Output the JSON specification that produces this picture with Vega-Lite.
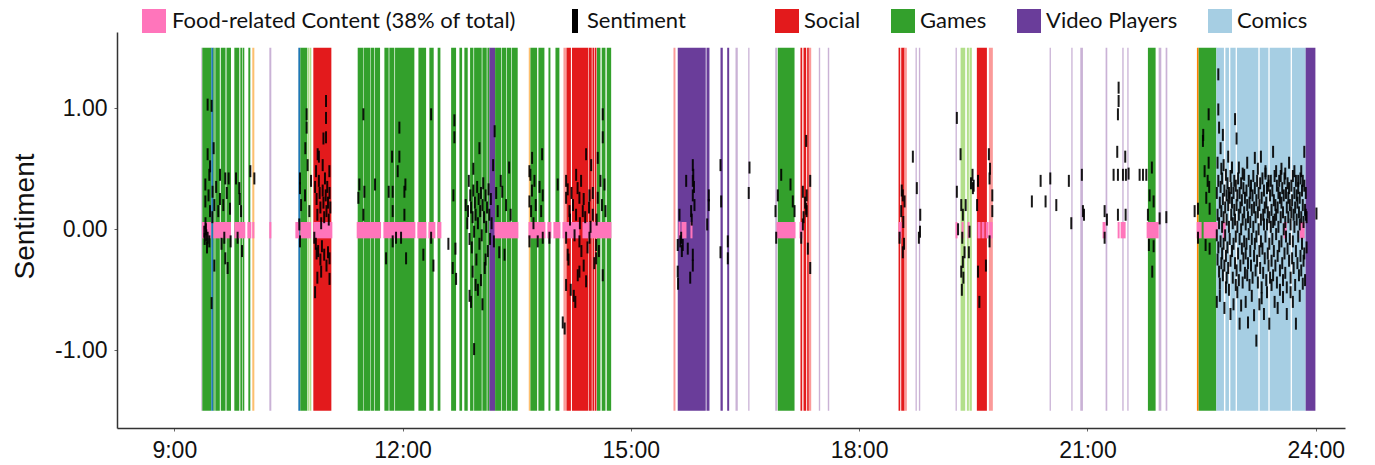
{
  "$schema": "https://vega.github.io/schema/vega-lite/v6.json",
  "width": 1228,
  "height": 396,
  "autosize": {"type": "none"},
  "padding": {"left": 117, "top": 32, "right": 30, "bottom": 37},
  "background": "white",
  "config": {
    "view": {"stroke": null},
    "font": "Liberation Sans",
    "axis": {"grid": false, "domainColor": "#333333", "domainWidth": 1.5, "tickColor": "#666666", "tickSize": 3, "labelColor": "#111111", "labelFont": "Liberation Sans", "labelFontSize": 23},
    "legend": {"labelFont": "Lato", "labelFontSize": 22, "labelColor": "#111111", "labelLimit": 600, "padding": 0, "symbolStrokeWidth": 0, "symbolSize": 576}
  },
  "resolve": {"scale": {"color": "independent"}},
  "datasets": {
    "bands": [
      {"s": 9.355, "e": 9.368, "c": "Entertainment"},
      {"s": 9.368, "e": 9.486, "c": "Games"},
      {"s": 9.486, "e": 9.513, "c": "Communication"},
      {"s": 9.513, "e": 9.530, "c": "Games"},
      {"s": 9.539, "e": 9.598, "c": "Games"},
      {"s": 9.611, "e": 9.673, "c": "Games"},
      {"s": 9.686, "e": 9.745, "c": "Games"},
      {"s": 9.789, "e": 9.854, "c": "Games"},
      {"s": 9.868, "e": 9.894, "c": "Games"},
      {"s": 9.901, "e": 9.920, "c": "Games"},
      {"s": 9.973, "e": 9.999, "c": "Games"},
      {"s": 10.025, "e": 10.052, "c": "Music"},
      {"s": 10.249, "e": 10.275, "c": "Entertainment"},
      {"s": 10.630, "e": 10.656, "c": "Communication"},
      {"s": 10.656, "e": 10.748, "c": "Games"},
      {"s": 10.755, "e": 10.775, "c": "Casual Games"},
      {"s": 10.781, "e": 10.801, "c": "Casual Games"},
      {"s": 10.827, "e": 11.064, "c": "Social"},
      {"s": 11.410, "e": 11.485, "c": "Games"},
      {"s": 11.491, "e": 11.577, "c": "Games"},
      {"s": 11.583, "e": 11.625, "c": "Games"},
      {"s": 11.633, "e": 11.704, "c": "Games"},
      {"s": 11.761, "e": 11.817, "c": "Games"},
      {"s": 11.826, "e": 11.892, "c": "Games"},
      {"s": 11.901, "e": 12.155, "c": "Games"},
      {"s": 12.208, "e": 12.309, "c": "Games"},
      {"s": 12.352, "e": 12.409, "c": "Games"},
      {"s": 12.461, "e": 12.497, "c": "Games"},
      {"s": 12.638, "e": 12.703, "c": "Games"},
      {"s": 12.747, "e": 12.782, "c": "Games"},
      {"s": 12.812, "e": 12.856, "c": "Games"},
      {"s": 12.887, "e": 12.931, "c": "Games"},
      {"s": 12.940, "e": 13.040, "c": "Games"},
      {"s": 13.049, "e": 13.106, "c": "Games"},
      {"s": 13.115, "e": 13.141, "c": "Games"},
      {"s": 13.141, "e": 13.216, "c": "Video Players"},
      {"s": 13.216, "e": 13.295, "c": "Games"},
      {"s": 13.303, "e": 13.361, "c": "Games"},
      {"s": 13.369, "e": 13.426, "c": "Games"},
      {"s": 13.434, "e": 13.513, "c": "Games"},
      {"s": 13.658, "e": 13.680, "c": "Music"},
      {"s": 13.680, "e": 13.768, "c": "Games"},
      {"s": 13.785, "e": 13.864, "c": "Games"},
      {"s": 13.917, "e": 13.943, "c": "Games"},
      {"s": 14.009, "e": 14.061, "c": "Games"},
      {"s": 14.114, "e": 14.147, "c": "Lifestyle"},
      {"s": 14.153, "e": 14.212, "c": "Social"},
      {"s": 14.226, "e": 14.439, "c": "Social"},
      {"s": 14.446, "e": 14.486, "c": "Social"},
      {"s": 14.495, "e": 14.517, "c": "Social"},
      {"s": 14.525, "e": 14.548, "c": "Social"},
      {"s": 14.554, "e": 14.600, "c": "Games"},
      {"s": 14.617, "e": 14.666, "c": "Games"},
      {"s": 14.683, "e": 14.741, "c": "Games"},
      {"s": 15.560, "e": 15.586, "c": "Lifestyle"},
      {"s": 15.616, "e": 15.984, "c": "Video Players"},
      {"s": 15.994, "e": 16.033, "c": "Video Players"},
      {"s": 16.178, "e": 16.208, "c": "Video Players"},
      {"s": 16.266, "e": 16.292, "c": "Video Players"},
      {"s": 16.375, "e": 16.405, "c": "Entertainment"},
      {"s": 16.542, "e": 16.559, "c": "Entertainment"},
      {"s": 16.897, "e": 16.923, "c": "Entertainment"},
      {"s": 16.931, "e": 17.151, "c": "Games"},
      {"s": 17.229, "e": 17.252, "c": "Social"},
      {"s": 17.269, "e": 17.304, "c": "Social"},
      {"s": 17.317, "e": 17.339, "c": "Social"},
      {"s": 17.339, "e": 17.370, "c": "Lifestyle"},
      {"s": 17.470, "e": 17.488, "c": "Entertainment"},
      {"s": 17.588, "e": 17.607, "c": "Entertainment"},
      {"s": 18.518, "e": 18.540, "c": "Social"},
      {"s": 18.553, "e": 18.597, "c": "Social"},
      {"s": 18.597, "e": 18.627, "c": "Lifestyle"},
      {"s": 18.741, "e": 18.758, "c": "Entertainment"},
      {"s": 18.785, "e": 18.803, "c": "Entertainment"},
      {"s": 19.267, "e": 19.284, "c": "Entertainment"},
      {"s": 19.333, "e": 19.394, "c": "Casual Games"},
      {"s": 19.416, "e": 19.442, "c": "Casual Games"},
      {"s": 19.451, "e": 19.481, "c": "Casual Games"},
      {"s": 19.547, "e": 19.679, "c": "Social"},
      {"s": 19.705, "e": 19.757, "c": "Lifestyle"},
      {"s": 20.503, "e": 20.520, "c": "Entertainment"},
      {"s": 20.788, "e": 20.805, "c": "Entertainment"},
      {"s": 20.906, "e": 20.941, "c": "Entertainment"},
      {"s": 21.239, "e": 21.261, "c": "Entertainment"},
      {"s": 21.458, "e": 21.476, "c": "Entertainment"},
      {"s": 21.524, "e": 21.541, "c": "Entertainment"},
      {"s": 21.795, "e": 21.896, "c": "Games"},
      {"s": 21.936, "e": 21.971, "c": "Entertainment"},
      {"s": 22.028, "e": 22.050, "c": "Entertainment"},
      {"s": 22.439, "e": 22.462, "c": "Shopping"},
      {"s": 22.462, "e": 22.694, "c": "Games"},
      {"s": 22.694, "e": 22.794, "c": "Comics"},
      {"s": 22.813, "e": 22.860, "c": "Comics"},
      {"s": 22.878, "e": 22.948, "c": "Comics"},
      {"s": 22.965, "e": 23.246, "c": "Comics"},
      {"s": 23.264, "e": 23.378, "c": "Comics"},
      {"s": 23.395, "e": 23.671, "c": "Comics"},
      {"s": 23.688, "e": 23.868, "c": "Comics"},
      {"s": 23.868, "e": 23.996, "c": "Video Players"}
    ],
    "food": [
      {"s": 9.364, "e": 9.482}, {"s": 9.513, "e": 9.745}, {"s": 9.789, "e": 9.933},
      {"s": 9.960, "e": 10.012}, {"s": 10.025, "e": 10.052}, {"s": 10.249, "e": 10.275},
      {"s": 10.591, "e": 10.643}, {"s": 10.656, "e": 10.797}, {"s": 10.827, "e": 11.077},
      {"s": 11.397, "e": 11.717}, {"s": 11.748, "e": 12.168}, {"s": 12.194, "e": 12.313},
      {"s": 12.339, "e": 12.431}, {"s": 12.457, "e": 12.510}, {"s": 13.207, "e": 13.522},
      {"s": 13.654, "e": 13.877}, {"s": 13.903, "e": 13.956}, {"s": 13.982, "e": 14.074},
      {"s": 14.101, "e": 14.324}, {"s": 14.364, "e": 14.745}, {"s": 15.626, "e": 15.652},
      {"s": 15.665, "e": 15.731}, {"s": 15.783, "e": 15.810}, {"s": 16.914, "e": 17.164},
      {"s": 17.216, "e": 17.256}, {"s": 18.518, "e": 18.557}, {"s": 19.267, "e": 19.293},
      {"s": 19.346, "e": 19.372}, {"s": 19.425, "e": 19.451}, {"s": 19.556, "e": 19.596},
      {"s": 19.609, "e": 19.648}, {"s": 19.662, "e": 19.701}, {"s": 19.714, "e": 19.753},
      {"s": 21.199, "e": 21.239}, {"s": 21.397, "e": 21.423}, {"s": 21.436, "e": 21.502},
      {"s": 21.778, "e": 21.936}, {"s": 22.435, "e": 22.501}, {"s": 22.527, "e": 22.711},
      {"s": 22.777, "e": 22.817}, {"s": 23.579, "e": 23.619}, {"s": 23.789, "e": 23.855}
    ],
    "ticks": [
      {"t": 9.438, "v": 1.03}, {"t": 9.490, "v": 1.02}, {"t": 9.517, "v": 0.67}, {"t": 9.438, "v": 0.62},
      {"t": 9.460, "v": 0.45}, {"t": 9.408, "v": 0.37}, {"t": 9.503, "v": 0.31}, {"t": 9.408, "v": 0.23},
      {"t": 9.526, "v": 0.20}, {"t": 9.469, "v": 0.15}, {"t": 9.394, "v": -0.02}, {"t": 9.438, "v": -0.07},
      {"t": 9.460, "v": -0.10}, {"t": 9.526, "v": -0.30}, {"t": 9.490, "v": -0.61}, {"t": 9.670, "v": 0.42},
      {"t": 9.601, "v": 0.45}, {"t": 9.714, "v": 0.42}, {"t": 9.578, "v": 0.15}, {"t": 9.644, "v": 0.20},
      {"t": 9.732, "v": 0.17}, {"t": 9.657, "v": -0.07}, {"t": 9.670, "v": -0.24}, {"t": 9.701, "v": -0.32},
      {"t": 9.811, "v": 0.42}, {"t": 9.854, "v": 0.34}, {"t": 9.877, "v": 0.15}, {"t": 9.832, "v": -0.07},
      {"t": 9.999, "v": 0.48}, {"t": 10.052, "v": 0.42}, {"t": 9.41, "v": 0.05}, {"t": 9.42, "v": -0.05},
      {"t": 9.45, "v": 0.28}, {"t": 9.47, "v": 0.52}, {"t": 9.43, "v": -0.15}, {"t": 9.50, "v": 0.10},
      {"t": 9.55, "v": 0.35}, {"t": 9.60, "v": 0.25}, {"t": 9.62, "v": -0.12}, {"t": 9.69, "v": 0.30},
      {"t": 9.74, "v": -0.10}, {"t": 9.86, "v": 0.25}, {"t": 9.89, "v": -0.18}, {"t": 9.40, "v": -0.08},
      {"t": 9.415, "v": 0.0},
      {"t": 10.652, "v": 0.42}, {"t": 10.652, "v": 0.34}, {"t": 10.666, "v": 0.20}, {"t": 10.643, "v": 0.04},
      {"t": 10.652, "v": -0.10}, {"t": 10.739, "v": 0.95}, {"t": 10.739, "v": 0.84}, {"t": 10.722, "v": 0.67},
      {"t": 10.752, "v": 0.53}, {"t": 10.718, "v": 0.28}, {"t": 10.775, "v": 0.15}, {"t": 10.797, "v": 0.40},
      {"t": 10.994, "v": 1.06}, {"t": 10.994, "v": 0.92}, {"t": 10.994, "v": 0.76}, {"t": 10.884, "v": 0.62},
      {"t": 10.863, "v": 0.48}, {"t": 10.950, "v": 0.53}, {"t": 11.038, "v": 0.48}, {"t": 10.840, "v": -0.07},
      {"t": 10.85, "v": 0.35}, {"t": 10.87, "v": 0.25}, {"t": 10.88, "v": 0.12}, {"t": 10.90, "v": 0.40},
      {"t": 10.91, "v": 0.30}, {"t": 10.92, "v": 0.18}, {"t": 10.93, "v": 0.05}, {"t": 10.95, "v": 0.32},
      {"t": 10.96, "v": 0.22}, {"t": 10.97, "v": 0.10}, {"t": 10.98, "v": 0.42}, {"t": 10.99, "v": 0.28},
      {"t": 11.00, "v": 0.15}, {"t": 11.01, "v": 0.35}, {"t": 11.02, "v": 0.22}, {"t": 11.03, "v": 0.08},
      {"t": 11.04, "v": 0.30}, {"t": 11.05, "v": 0.18}, {"t": 10.86, "v": -0.12}, {"t": 10.89, "v": -0.18},
      {"t": 10.92, "v": -0.25}, {"t": 10.94, "v": -0.14}, {"t": 10.97, "v": -0.21}, {"t": 11.00, "v": -0.30},
      {"t": 11.02, "v": -0.19}, {"t": 11.04, "v": -0.24}, {"t": 10.93, "v": -0.35}, {"t": 10.88, "v": -0.40},
      {"t": 11.04, "v": -0.41}, {"t": 10.85, "v": -0.52}, {"t": 10.87, "v": -0.20}, {"t": 10.90, "v": 0.60},
      {"t": 10.96, "v": 0.75},
      {"t": 11.485, "v": 0.95}, {"t": 11.432, "v": 0.37}, {"t": 11.498, "v": 0.31}, {"t": 11.419, "v": 0.26},
      {"t": 11.638, "v": 0.37}, {"t": 11.485, "v": 0.12}, {"t": 11.862, "v": 0.60}, {"t": 11.958, "v": 0.84},
      {"t": 11.958, "v": 0.60}, {"t": 11.936, "v": 0.48}, {"t": 12.037, "v": 0.37}, {"t": 12.024, "v": 0.31},
      {"t": 11.817, "v": 0.31}, {"t": 11.870, "v": 0.31}, {"t": 11.870, "v": 0.15}, {"t": 12.024, "v": 0.12},
      {"t": 11.980, "v": -0.07}, {"t": 11.914, "v": -0.07}, {"t": 11.783, "v": -0.24}, {"t": 12.046, "v": -0.24},
      {"t": 11.870, "v": -0.10}, {"t": 12.375, "v": 0.95}, {"t": 12.273, "v": -0.21}, {"t": 12.405, "v": -0.30},
      {"t": 12.375, "v": -0.07}, {"t": 12.602, "v": -0.12}, {"t": 12.681, "v": 0.90}, {"t": 12.681, "v": 0.76},
      {"t": 12.668, "v": 0.28}, {"t": 12.694, "v": -0.16}, {"t": 12.659, "v": -0.32}, {"t": 12.703, "v": -0.41},
      {"t": 12.83, "v": 0.20}, {"t": 12.85, "v": 0.05}, {"t": 12.86, "v": 0.15}, {"t": 12.88, "v": -0.08},
      {"t": 12.89, "v": 0.28}, {"t": 12.90, "v": 0.18}, {"t": 12.91, "v": -0.15}, {"t": 12.92, "v": 0.10},
      {"t": 12.93, "v": 0.32}, {"t": 12.94, "v": -0.02}, {"t": 12.95, "v": 0.22}, {"t": 12.96, "v": 0.12},
      {"t": 12.97, "v": -0.25}, {"t": 12.98, "v": 0.35}, {"t": 12.99, "v": 0.05}, {"t": 13.00, "v": 0.25},
      {"t": 13.01, "v": 0.67}, {"t": 13.01, "v": -0.12}, {"t": 13.02, "v": 0.15}, {"t": 13.03, "v": 0.30},
      {"t": 13.04, "v": -0.05}, {"t": 13.05, "v": 0.20}, {"t": 13.06, "v": 0.38}, {"t": 13.07, "v": 0.10},
      {"t": 13.08, "v": -0.32}, {"t": 13.09, "v": 0.28}, {"t": 13.10, "v": 0.02}, {"t": 13.11, "v": 0.18},
      {"t": 13.12, "v": -0.18}, {"t": 13.13, "v": 0.33}, {"t": 13.14, "v": 0.12}, {"t": 13.15, "v": -0.08},
      {"t": 13.16, "v": 0.25}, {"t": 13.17, "v": 0.05}, {"t": 13.19, "v": 0.53}, {"t": 13.20, "v": -0.10},
      {"t": 13.21, "v": 0.81}, {"t": 13.23, "v": 0.30}, {"t": 13.25, "v": 0.15}, {"t": 13.27, "v": -0.19},
      {"t": 13.29, "v": 0.40}, {"t": 13.31, "v": 0.31}, {"t": 13.34, "v": -0.21}, {"t": 13.36, "v": 0.20},
      {"t": 13.40, "v": 0.51}, {"t": 13.42, "v": 0.12}, {"t": 12.94, "v": -0.99}, {"t": 12.96, "v": -0.46},
      {"t": 12.92, "v": -0.35}, {"t": 12.88, "v": -0.55}, {"t": 12.90, "v": -0.60}, {"t": 13.03, "v": -0.42},
      {"t": 12.99, "v": -0.50}, {"t": 13.05, "v": -0.62}, {"t": 12.87, "v": 0.40}, {"t": 12.93, "v": 0.50},
      {"t": 13.09, "v": -0.25},
      {"t": 13.834, "v": 0.62}, {"t": 13.702, "v": 0.59}, {"t": 13.667, "v": 0.48}, {"t": 13.733, "v": 0.40},
      {"t": 13.667, "v": 0.23}, {"t": 13.689, "v": 0.15}, {"t": 13.842, "v": 0.28}, {"t": 13.821, "v": 0.15},
      {"t": 13.667, "v": -0.10}, {"t": 13.776, "v": -0.10}, {"t": 13.842, "v": -0.07}, {"t": 13.930, "v": -0.07},
      {"t": 14.039, "v": 0.37}, {"t": 13.70, "v": 0.32}, {"t": 13.72, "v": 0.05}, {"t": 13.75, "v": 0.20},
      {"t": 13.68, "v": 0.45}, {"t": 13.80, "v": 0.35},
      {"t": 14.412, "v": 0.62}, {"t": 14.565, "v": 0.59}, {"t": 14.631, "v": 0.95}, {"t": 14.631, "v": 0.76},
      {"t": 14.149, "v": 0.40}, {"t": 14.281, "v": 0.45}, {"t": 14.346, "v": 0.40}, {"t": 14.478, "v": 0.53},
      {"t": 14.324, "v": 0.26}, {"t": 14.456, "v": 0.28}, {"t": 14.565, "v": 0.26}, {"t": 14.653, "v": 0.37},
      {"t": 14.149, "v": 0.26}, {"t": 14.193, "v": 0.15}, {"t": 14.368, "v": 0.15}, {"t": 14.499, "v": 0.12},
      {"t": 14.666, "v": 0.15}, {"t": 14.149, "v": -0.07}, {"t": 14.324, "v": -0.10}, {"t": 14.456, "v": -0.07},
      {"t": 14.544, "v": -0.13}, {"t": 14.170, "v": -0.21}, {"t": 14.324, "v": -0.35}, {"t": 14.544, "v": -0.24},
      {"t": 14.412, "v": -0.43}, {"t": 14.149, "v": -0.46}, {"t": 14.302, "v": -0.38}, {"t": 14.631, "v": -0.38},
      {"t": 14.105, "v": -0.77}, {"t": 14.13, "v": -0.82}, {"t": 14.17, "v": 0.33}, {"t": 14.20, "v": 0.08},
      {"t": 14.22, "v": 0.30}, {"t": 14.24, "v": 0.20}, {"t": 14.26, "v": -0.05}, {"t": 14.28, "v": 0.12},
      {"t": 14.30, "v": 0.34}, {"t": 14.33, "v": 0.05}, {"t": 14.35, "v": -0.18}, {"t": 14.38, "v": 0.25},
      {"t": 14.40, "v": 0.10}, {"t": 14.43, "v": -0.15}, {"t": 14.45, "v": 0.18}, {"t": 14.47, "v": 0.02},
      {"t": 14.50, "v": 0.30}, {"t": 14.52, "v": -0.28}, {"t": 14.55, "v": 0.08}, {"t": 14.58, "v": -0.18},
      {"t": 14.60, "v": 0.40}, {"t": 14.62, "v": 0.20}, {"t": 14.25, "v": -0.55}, {"t": 14.27, "v": -0.60},
      {"t": 14.38, "v": -0.30}, {"t": 14.18, "v": -0.25}, {"t": 14.21, "v": -0.50},
      {"t": 15.814, "v": 0.53}, {"t": 15.814, "v": 0.40}, {"t": 15.727, "v": 0.40}, {"t": 15.814, "v": 0.28},
      {"t": 15.836, "v": 0.20}, {"t": 15.792, "v": 0.15}, {"t": 15.639, "v": 0.12}, {"t": 15.616, "v": -0.13},
      {"t": 15.682, "v": -0.13}, {"t": 15.661, "v": -0.07}, {"t": 15.748, "v": -0.16}, {"t": 15.814, "v": -0.21},
      {"t": 15.616, "v": -0.35}, {"t": 15.814, "v": -0.30}, {"t": 16.024, "v": 0.28}, {"t": 16.024, "v": 0.20},
      {"t": 16.003, "v": 0.04}, {"t": 15.82, "v": 0.45}, {"t": 15.83, "v": 0.35}, {"t": 15.80, "v": 0.08},
      {"t": 15.65, "v": -0.10}, {"t": 15.67, "v": -0.18}, {"t": 15.78, "v": -0.40}, {"t": 15.62, "v": -0.45},
      {"t": 16.178, "v": 0.53}, {"t": 16.187, "v": 0.23}, {"t": 16.178, "v": -0.19}, {"t": 16.274, "v": -0.10},
      {"t": 16.274, "v": -0.24}, {"t": 16.559, "v": 0.51}, {"t": 16.549, "v": 0.30},
      {"t": 16.976, "v": 0.45}, {"t": 16.931, "v": 0.28}, {"t": 16.901, "v": 0.15}, {"t": 16.910, "v": -0.07},
      {"t": 17.098, "v": 0.37}, {"t": 17.128, "v": 0.23}, {"t": 17.151, "v": 0.15},
      {"t": 17.304, "v": 0.73}, {"t": 17.260, "v": 0.31}, {"t": 17.304, "v": 0.17}, {"t": 17.310, "v": 0.15},
      {"t": 17.357, "v": 0.40}, {"t": 17.239, "v": -0.07}, {"t": 17.326, "v": -0.16}, {"t": 17.357, "v": -0.32},
      {"t": 17.260, "v": 0.04}, {"t": 17.29, "v": 0.22}, {"t": 17.31, "v": 0.28}, {"t": 17.27, "v": 0.10},
      {"t": 18.706, "v": 0.60}, {"t": 18.574, "v": 0.28}, {"t": 18.597, "v": 0.23}, {"t": 18.553, "v": 0.15},
      {"t": 18.758, "v": 0.34}, {"t": 18.803, "v": 0.12}, {"t": 18.785, "v": -0.07}, {"t": 18.574, "v": -0.19},
      {"t": 18.531, "v": -0.07}, {"t": 18.56, "v": 0.32}, {"t": 18.58, "v": 0.06}, {"t": 18.59, "v": -0.12},
      {"t": 18.80, "v": -0.02},
      {"t": 19.284, "v": 0.92}, {"t": 19.284, "v": 0.31}, {"t": 19.333, "v": 0.62}, {"t": 19.342, "v": 0.20},
      {"t": 19.342, "v": -0.35}, {"t": 19.363, "v": 0.12}, {"t": 19.363, "v": -0.27}, {"t": 19.355, "v": -0.07},
      {"t": 19.451, "v": -0.02}, {"t": 19.385, "v": -0.19}, {"t": 19.442, "v": -0.19}, {"t": 19.495, "v": 0.34},
      {"t": 19.505, "v": 0.36}, {"t": 19.562, "v": 0.40}, {"t": 19.562, "v": -0.35}, {"t": 19.666, "v": -0.30},
      {"t": 19.705, "v": 0.62}, {"t": 19.714, "v": 0.42}, {"t": 19.714, "v": -0.10}, {"t": 19.750, "v": 0.28},
      {"t": 19.750, "v": 0.15}, {"t": 19.30, "v": 0.0}, {"t": 19.37, "v": -0.40}, {"t": 19.35, "v": -0.50},
      {"t": 19.40, "v": 0.20}, {"t": 19.55, "v": 0.20}, {"t": 19.58, "v": -0.60}, {"t": 19.47, "v": 0.38},
      {"t": 19.72, "v": 0.50}, {"t": 19.49, "v": 0.45},
      {"t": 20.385, "v": 0.40}, {"t": 20.270, "v": 0.23}, {"t": 20.450, "v": 0.23}, {"t": 20.512, "v": 0.42},
      {"t": 20.591, "v": 0.20}, {"t": 20.756, "v": 0.40}, {"t": 20.788, "v": 0.05}, {"t": 20.927, "v": 0.45},
      {"t": 20.941, "v": 0.15}, {"t": 20.955, "v": 0.12},
      {"t": 21.226, "v": 0.15}, {"t": 21.226, "v": -0.07}, {"t": 21.256, "v": 0.08},
      {"t": 21.410, "v": 1.17}, {"t": 21.410, "v": 1.06}, {"t": 21.401, "v": 0.95}, {"t": 21.401, "v": 0.45},
      {"t": 21.401, "v": 0.12}, {"t": 21.392, "v": 0.64}, {"t": 21.497, "v": 0.60}, {"t": 21.344, "v": 0.45},
      {"t": 21.467, "v": 0.45}, {"t": 21.506, "v": 0.45}, {"t": 21.541, "v": 0.46}, {"t": 21.502, "v": 0.12},
      {"t": 21.686, "v": 0.45}, {"t": 21.730, "v": 0.45}, {"t": 21.774, "v": 0.45},
      {"t": 21.847, "v": 0.51}, {"t": 21.817, "v": 0.28}, {"t": 21.870, "v": 0.23}, {"t": 21.870, "v": -0.14},
      {"t": 21.795, "v": 0.12}, {"t": 21.808, "v": -0.13}, {"t": 21.852, "v": -0.35}, {"t": 21.949, "v": 0.09},
      {"t": 22.037, "v": 0.10},
      {"t": 22.409, "v": 0.15}, {"t": 22.453, "v": 0.17}, {"t": 22.453, "v": -0.07}, {"t": 22.593, "v": 0.95},
      {"t": 22.593, "v": 0.55}, {"t": 22.518, "v": 0.73}, {"t": 22.522, "v": 0.78}, {"t": 22.540, "v": 0.48},
      {"t": 22.562, "v": 0.26}, {"t": 22.606, "v": 0.17}, {"t": 22.606, "v": -0.16}, {"t": 22.553, "v": -0.13},
      {"t": 22.60, "v": 0.35}, {"t": 22.58, "v": 0.40},
      {"t": 22.70, "v": 0.30}, {"t": 22.70, "v": -0.05}, {"t": 22.70, "v": -0.60},
      {"t": 22.71, "v": 0.12}, {"t": 22.71, "v": -0.25}, {"t": 22.71, "v": 0.55},
      {"t": 22.72, "v": 0.40}, {"t": 22.72, "v": -0.15}, {"t": 22.72, "v": 1.28}, {"t": 22.72, "v": 0.99},
      {"t": 22.73, "v": 0.05}, {"t": 22.73, "v": -0.35}, {"t": 22.73, "v": 0.84},
      {"t": 22.74, "v": 0.22}, {"t": 22.74, "v": -0.45}, {"t": 22.74, "v": -0.55},
      {"t": 22.75, "v": 0.35}, {"t": 22.75, "v": -0.10}, {"t": 22.75, "v": 0.67},
      {"t": 22.76, "v": 0.15}, {"t": 22.76, "v": -0.28}, {"t": 22.76, "v": 0.50},
      {"t": 22.77, "v": 0.42}, {"t": 22.77, "v": 0.02}, {"t": 22.77, "v": -0.20},
      {"t": 22.78, "v": 0.25}, {"t": 22.78, "v": -0.38}, {"t": 22.78, "v": 0.78},
      {"t": 22.79, "v": 0.10}, {"t": 22.79, "v": -0.12}, {"t": 22.79, "v": 0.53},
      {"t": 22.80, "v": 0.32}, {"t": 22.80, "v": -0.30}, {"t": 22.80, "v": -0.65},
      {"t": 22.81, "v": 0.18}, {"t": 22.81, "v": -0.05},
      {"t": 22.82, "v": 0.45}, {"t": 22.82, "v": -0.22}, {"t": 22.82, "v": -0.48},
      {"t": 22.83, "v": 0.08}, {"t": 22.83, "v": 0.28}, {"t": 22.83, "v": -0.40},
      {"t": 22.84, "v": 0.38}, {"t": 22.84, "v": -0.15},
      {"t": 22.85, "v": 0.20}, {"t": 22.85, "v": -0.32}, {"t": 22.85, "v": 0.60},
      {"t": 22.86, "v": 0.02}, {"t": 22.86, "v": -0.50}, {"t": 22.86, "v": 0.30},
      {"t": 22.87, "v": 0.26}, {"t": 22.87, "v": -0.08},
      {"t": 22.88, "v": 0.44}, {"t": 22.88, "v": -0.26}, {"t": 22.88, "v": -0.70},
      {"t": 22.89, "v": 0.12}, {"t": 22.89, "v": 0.34},
      {"t": 22.90, "v": -0.18}, {"t": 22.90, "v": 0.22}, {"t": 22.90, "v": 0.51},
      {"t": 22.91, "v": 0.05}, {"t": 22.91, "v": -0.40},
      {"t": 22.92, "v": 0.30}, {"t": 22.92, "v": -0.12}, {"t": 22.92, "v": -0.62},
      {"t": 22.93, "v": 0.16}, {"t": 22.93, "v": 0.40},
      {"t": 22.94, "v": -0.28}, {"t": 22.94, "v": 0.08}, {"t": 22.94, "v": 0.91},
      {"t": 22.95, "v": 0.36}, {"t": 22.95, "v": -0.06}, {"t": 22.95, "v": -0.46},
      {"t": 22.96, "v": 0.20}, {"t": 22.96, "v": -0.34}, {"t": 22.96, "v": 0.75},
      {"t": 22.97, "v": 0.02}, {"t": 22.97, "v": 0.28}, {"t": 22.97, "v": -0.52},
      {"t": 22.98, "v": 0.42}, {"t": 22.98, "v": -0.20},
      {"t": 22.99, "v": 0.12}, {"t": 22.99, "v": -0.42}, {"t": 22.99, "v": 0.51},
      {"t": 23.00, "v": 0.30}, {"t": 23.00, "v": -0.08}, {"t": 23.00, "v": -0.78},
      {"t": 23.01, "v": 0.18}, {"t": 23.01, "v": -0.30},
      {"t": 23.02, "v": 0.38}, {"t": 23.02, "v": 0.00}, {"t": 23.02, "v": -0.63},
      {"t": 23.03, "v": 0.24}, {"t": 23.03, "v": -0.16},
      {"t": 23.04, "v": 0.08}, {"t": 23.04, "v": -0.44}, {"t": 23.04, "v": 0.46},
      {"t": 23.05, "v": 0.34}, {"t": 23.05, "v": -0.24},
      {"t": 23.06, "v": 0.14}, {"t": 23.06, "v": 0.45}, {"t": 23.06, "v": -0.10},
      {"t": 23.07, "v": -0.36}, {"t": 23.07, "v": 0.26},
      {"t": 23.08, "v": 0.04}, {"t": 23.08, "v": -0.20}, {"t": 23.08, "v": -0.60},
      {"t": 23.09, "v": 0.32}, {"t": 23.09, "v": -0.12},
      {"t": 23.10, "v": 0.20}, {"t": 23.10, "v": -0.38}, {"t": 23.10, "v": 0.55},
      {"t": 23.11, "v": 0.10}, {"t": 23.11, "v": -0.28}, {"t": 23.11, "v": -0.77},
      {"t": 23.12, "v": 0.40}, {"t": 23.12, "v": -0.04},
      {"t": 23.13, "v": 0.22}, {"t": 23.13, "v": -0.46},
      {"t": 23.14, "v": 0.06}, {"t": 23.14, "v": 0.30}, {"t": 23.14, "v": -0.18},
      {"t": 23.15, "v": 0.36}, {"t": 23.15, "v": -0.30},
      {"t": 23.16, "v": 0.16}, {"t": 23.16, "v": -0.08}, {"t": 23.16, "v": -0.55},
      {"t": 23.17, "v": 0.28}, {"t": 23.17, "v": -0.40},
      {"t": 23.18, "v": 0.02}, {"t": 23.18, "v": 0.44},
      {"t": 23.19, "v": -0.22}, {"t": 23.19, "v": 0.18}, {"t": 23.19, "v": -0.71},
      {"t": 23.20, "v": 0.34}, {"t": 23.20, "v": -0.12}, {"t": 23.20, "v": 0.59},
      {"t": 23.21, "v": 0.10}, {"t": 23.21, "v": -0.34},
      {"t": 23.22, "v": 0.24}, {"t": 23.22, "v": -0.06}, {"t": 23.22, "v": -0.92},
      {"t": 23.23, "v": 0.40}, {"t": 23.23, "v": -0.26},
      {"t": 23.24, "v": 0.14}, {"t": 23.24, "v": -0.44}, {"t": 23.24, "v": 0.50},
      {"t": 23.25, "v": 0.30}, {"t": 23.25, "v": 0.00},
      {"t": 23.26, "v": -0.18}, {"t": 23.26, "v": 0.20}, {"t": 23.26, "v": -0.62},
      {"t": 23.27, "v": 0.38}, {"t": 23.27, "v": -0.32},
      {"t": 23.28, "v": 0.08}, {"t": 23.28, "v": -0.10}, {"t": 23.28, "v": 0.60},
      {"t": 23.29, "v": 0.26}, {"t": 23.29, "v": -0.48}, {"t": 23.29, "v": -0.57},
      {"t": 23.30, "v": 0.42}, {"t": 23.30, "v": -0.16},
      {"t": 23.31, "v": 0.12}, {"t": 23.31, "v": -0.36},
      {"t": 23.32, "v": 0.32}, {"t": 23.32, "v": 0.04}, {"t": 23.32, "v": -0.70},
      {"t": 23.33, "v": 0.18}, {"t": 23.33, "v": -0.24},
      {"t": 23.34, "v": 0.46}, {"t": 23.34, "v": -0.06}, {"t": 23.34, "v": 0.48},
      {"t": 23.35, "v": 0.22}, {"t": 23.35, "v": -0.42},
      {"t": 23.36, "v": 0.04}, {"t": 23.36, "v": 0.34}, {"t": 23.36, "v": -0.52},
      {"t": 23.37, "v": -0.20}, {"t": 23.37, "v": 0.14},
      {"t": 23.38, "v": 0.36}, {"t": 23.38, "v": -0.30}, {"t": 23.38, "v": 0.40},
      {"t": 23.39, "v": 0.10}, {"t": 23.39, "v": -0.12}, {"t": 23.39, "v": -0.78},
      {"t": 23.40, "v": 0.28}, {"t": 23.40, "v": -0.40},
      {"t": 23.41, "v": 0.40}, {"t": 23.41, "v": 0.02},
      {"t": 23.42, "v": 0.16}, {"t": 23.42, "v": -0.26}, {"t": 23.42, "v": -0.46},
      {"t": 23.43, "v": 0.32}, {"t": 23.43, "v": -0.08},
      {"t": 23.44, "v": 0.06}, {"t": 23.44, "v": -0.38}, {"t": 23.44, "v": 0.64},
      {"t": 23.45, "v": 0.24}, {"t": 23.45, "v": -0.18},
      {"t": 23.46, "v": 0.44}, {"t": 23.46, "v": 0.08}, {"t": 23.46, "v": -0.60},
      {"t": 23.47, "v": -0.30}, {"t": 23.47, "v": 0.20},
      {"t": 23.48, "v": 0.12}, {"t": 23.48, "v": -0.04}, {"t": 23.48, "v": 0.48},
      {"t": 23.49, "v": 0.36}, {"t": 23.49, "v": -0.44},
      {"t": 23.50, "v": 0.18}, {"t": 23.50, "v": -0.22}, {"t": 23.50, "v": -0.65},
      {"t": 23.51, "v": 0.02}, {"t": 23.51, "v": 0.30},
      {"t": 23.52, "v": 0.40}, {"t": 23.52, "v": -0.14},
      {"t": 23.53, "v": 0.26}, {"t": 23.53, "v": -0.34}, {"t": 23.53, "v": -0.50},
      {"t": 23.54, "v": 0.10}, {"t": 23.54, "v": 0.44},
      {"t": 23.55, "v": -0.10}, {"t": 23.55, "v": 0.22}, {"t": 23.55, "v": 0.50},
      {"t": 23.56, "v": 0.34}, {"t": 23.56, "v": -0.28},
      {"t": 23.57, "v": 0.14}, {"t": 23.57, "v": -0.42}, {"t": 23.57, "v": -0.56},
      {"t": 23.58, "v": 0.28}, {"t": 23.58, "v": 0.00},
      {"t": 23.59, "v": 0.42}, {"t": 23.59, "v": -0.20},
      {"t": 23.60, "v": 0.06}, {"t": 23.60, "v": -0.36}, {"t": 23.60, "v": 0.46},
      {"t": 23.61, "v": 0.30}, {"t": 23.61, "v": -0.06},
      {"t": 23.62, "v": 0.18}, {"t": 23.62, "v": -0.48}, {"t": 23.62, "v": -0.70},
      {"t": 23.63, "v": 0.38}, {"t": 23.63, "v": -0.16},
      {"t": 23.64, "v": 0.10}, {"t": 23.64, "v": 0.26},
      {"t": 23.65, "v": -0.26}, {"t": 23.65, "v": 0.34}, {"t": 23.65, "v": 0.55},
      {"t": 23.66, "v": 0.20}, {"t": 23.66, "v": -0.08},
      {"t": 23.67, "v": 0.04}, {"t": 23.67, "v": -0.40}, {"t": 23.67, "v": -0.52},
      {"t": 23.68, "v": 0.36}, {"t": 23.68, "v": 0.14},
      {"t": 23.69, "v": 0.24}, {"t": 23.69, "v": -0.24},
      {"t": 23.70, "v": 0.44}, {"t": 23.70, "v": -0.10}, {"t": 23.70, "v": -0.60},
      {"t": 23.71, "v": 0.12}, {"t": 23.71, "v": -0.32},
      {"t": 23.72, "v": 0.30}, {"t": 23.72, "v": 0.02}, {"t": 23.72, "v": 0.48},
      {"t": 23.73, "v": 0.18}, {"t": 23.73, "v": -0.46},
      {"t": 23.74, "v": 0.40}, {"t": 23.74, "v": -0.18}, {"t": 23.74, "v": -0.78},
      {"t": 23.75, "v": 0.08}, {"t": 23.75, "v": 0.28},
      {"t": 23.76, "v": -0.28}, {"t": 23.76, "v": 0.22},
      {"t": 23.77, "v": 0.34}, {"t": 23.77, "v": -0.06}, {"t": 23.77, "v": 0.40},
      {"t": 23.78, "v": 0.14}, {"t": 23.78, "v": -0.38},
      {"t": 23.79, "v": 0.26}, {"t": 23.79, "v": 0.04}, {"t": 23.79, "v": -0.55},
      {"t": 23.80, "v": 0.42}, {"t": 23.80, "v": -0.22},
      {"t": 23.81, "v": 0.10}, {"t": 23.81, "v": -0.34}, {"t": 23.81, "v": 0.48},
      {"t": 23.82, "v": 0.32}, {"t": 23.82, "v": -0.12},
      {"t": 23.83, "v": 0.20}, {"t": 23.83, "v": 0.40}, {"t": 23.83, "v": -0.45},
      {"t": 23.84, "v": 0.06}, {"t": 23.84, "v": -0.26},
      {"t": 23.85, "v": 0.36}, {"t": 23.85, "v": 0.64}, {"t": 23.85, "v": -0.20},
      {"t": 23.86, "v": 0.16}, {"t": 23.86, "v": -0.42},
      {"t": 23.87, "v": 0.30}, {"t": 23.87, "v": 0.12},
      {"t": 23.88, "v": -0.15}, {"t": 23.88, "v": 0.10},
      {"t": 24.01, "v": 0.13}
    ]
  },
  "layer": [
    {
      "data": {"name": "bands"},
      "mark": {"type": "rect"},
      "encoding": {
        "x": {"field": "s", "type": "quantitative", "scale": {"domain": [8.247, 24.385], "nice": false, "zero": false},
              "axis": {"values": [9, 12, 15, 18, 21, 24], "labelExpr": "datum.value + ':00'", "title": null, "labelPadding": 8, "tickSize": 3}},
        "x2": {"field": "e"},
        "y": {"datum": 1.5, "type": "quantitative", "scale": {"domain": [-1.642, 1.63], "nice": false, "zero": false},
              "axis": {"values": [-1, 0, 1], "labelExpr": "replace(format(datum.value, '.2f'), '\u2212', '-')", "title": "Sentiment", "titleFont": "Liberation Sans", "titleFontSize": 28, "titleFontWeight": "normal", "titleColor": "#111111", "titleX": -84, "titleY": 184, "titleBaseline": "alphabetic", "labelPadding": 7, "tickSize": 3}},
        "y2": {"datum": -1.5},
        "color": {
          "field": "c", "type": "nominal",
          "scale": {
            "domain": ["Social", "Games", "Video Players", "Comics", "Lifestyle", "Entertainment", "Casual Games", "Music", "Communication", "Shopping"],
            "range": ["#e31a1c", "#33a02c", "#6a3d9a", "#a6cee3", "#fb9a99", "#cab2d6", "#b2df8a", "#fdbf6f", "#1f78b4", "#ff7f00"]
          },
          "legend": {"values": ["Social", "Games", "Video Players", "Comics"], "title": null, "orient": "none", "legendX": 658, "legendY": -23, "direction": "horizontal", "columns": 4, "columnPadding": 30, "symbolType": "square", "labelOffset": 5}
        }
      }
    },
    {
      "data": {"name": "food"},
      "mark": {"type": "rect"},
      "encoding": {
        "x": {"field": "s", "type": "quantitative"},
        "x2": {"field": "e"},
        "y": {"datum": 0.06, "type": "quantitative"},
        "y2": {"datum": -0.075},
        "color": {"datum": "Food-related Content (38% of total)", "scale": {"range": ["#ff75bb"]},
                  "legend": {"title": null, "orient": "none", "legendX": 25, "legendY": -23, "symbolType": "square", "labelOffset": 6}}
      }
    },
    {
      "data": {"name": "ticks"},
      "mark": {"type": "tick", "orient": "vertical", "size": 12, "thickness": 2, "opacity": 0.9},
      "encoding": {
        "x": {"field": "t", "type": "quantitative"},
        "y": {"field": "v", "type": "quantitative"},
        "color": {"datum": "Sentiment", "scale": {"range": ["#000000"]},
                  "legend": {"title": null, "orient": "none", "legendX": 446, "legendY": -23, "symbolType": "M-0.25,-1L0.25,-1L0.25,1L-0.25,1Z", "symbolOpacity": 1, "labelOffset": 0}}
      }
    }
  ]
}
